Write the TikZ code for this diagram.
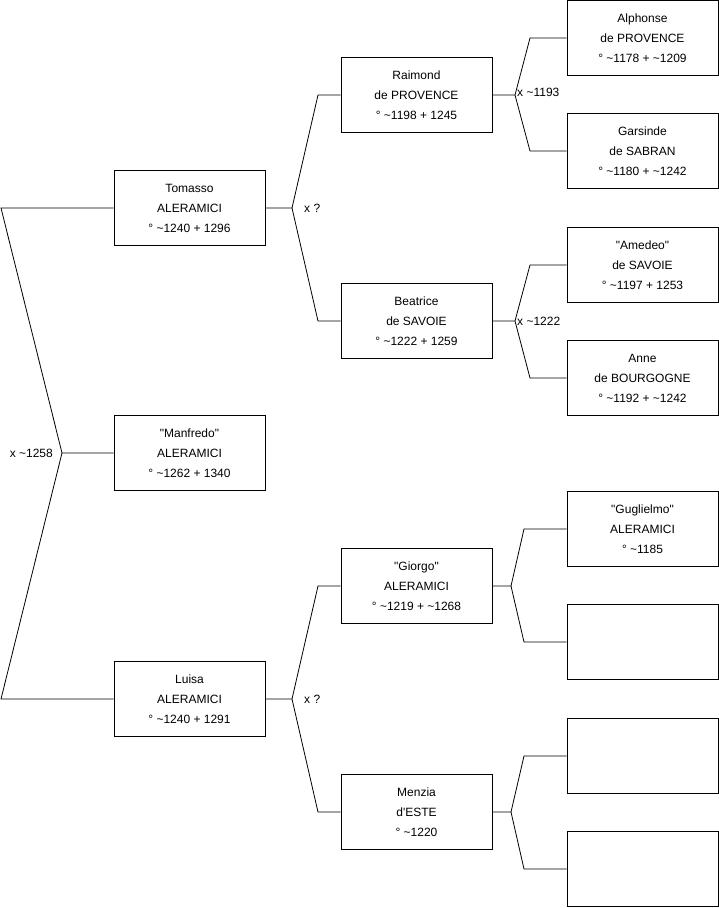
\documentclass[tikz,border=0pt]{standalone}
\usepackage{fontspec}
\setmainfont{Liberation Sans}
\usepackage{tikz}
\usetikzlibrary{calc}
\newcommand{\ap}{\textasciitilde}
\newcommand{\qq}[1]{\textquotedbl#1\textquotedbl}

\begin{document}
\begin{tikzpicture}[
  x=1pt, y=-1pt,
  person/.style={draw, line width=0.8pt, minimum width=151pt, minimum height=75pt, align=center, inner sep=0pt, font=\fontsize{12}{20}\selectfont},
  link/.style={draw, line width=0.8pt},
  union/.style={font=\fontsize{12}{14}\selectfont, inner sep=0pt}
]
\useasboundingbox (0,0) rectangle (719,908);

% generation 1
\node[person] (tomasso)  at (189.5,208) {Tomasso\\ALERAMICI\\° \ap1240 + 1296};
\node[person] (manfredo) at (189.5,453) {\qq{Manfredo}\\ALERAMICI\\° \ap1262 + 1340};
\node[person] (luisa)    at (189.5,699) {Luisa\\ALERAMICI\\° \ap1240 + 1291};

% generation 2
\node[person] (raimond)  at (416.5,95)  {Raimond\\de PROVENCE\\° \ap1198 + 1245};
\node[person] (beatrice) at (416.5,321) {Beatrice\\de SAVOIE\\° \ap1222 + 1259};
\node[person] (giorgo)   at (416.5,586) {\qq{Giorgo}\\ALERAMICI\\° \ap1219 + \ap1268};
\node[person] (menzia)   at (416.5,812) {Menzia\\d\textquotesingle ESTE\\° \ap1220};

% generation 3
\node[person] (alphonse)  at (642.5,38)  {Alphonse\\de PROVENCE\\° \ap1178 + \ap1209};
\node[person] (garsinde)  at (642.5,151) {Garsinde\\de SABRAN\\° \ap1180 + \ap1242};
\node[person] (amedeo)    at (642.5,265) {\qq{Amedeo}\\de SAVOIE\\° \ap1197 + 1253};
\node[person] (anne)      at (642.5,378) {Anne\\de BOURGOGNE\\° \ap1192 + \ap1242};
\node[person] (guglielmo) at (642.5,529) {\qq{Guglielmo}\\ALERAMICI\\° \ap1185};
\node[person] (emptyA)    at (642.5,642) {};
\node[person] (emptyB)    at (642.5,756) {};
\node[person] (emptyC)    at (642.5,869) {};

% junctions
\coordinate (jManfredo) at (62,453);
\coordinate (jTomasso)  at (292,208);
\coordinate (jLuisa)    at (292,699);
\coordinate (jRaimond)  at (515,95);
\coordinate (jBeatrice) at (515,321);
\coordinate (jGiorgo)   at (511,586);
\coordinate (jMenzia)   at (511,812);

% links
\path[link] (manfredo.west) -- (jManfredo) -- (1,208) -- (tomasso.west);
\path[link] (jManfredo) -- (1,699) -- (luisa.west);
\path[link] (tomasso.east) -- (jTomasso) -- (318,95) -- (raimond.west);
\path[link] (jTomasso) -- (318,321) -- (beatrice.west);
\path[link] (luisa.east) -- (jLuisa) -- (318,586) -- (giorgo.west);
\path[link] (jLuisa) -- (318,812) -- (menzia.west);
\path[link] (raimond.east) -- (jRaimond) -- (530,38) -- (alphonse.west);
\path[link] (jRaimond) -- (530,151) -- (garsinde.west);
\path[link] (beatrice.east) -- (jBeatrice) -- (530,265) -- (amedeo.west);
\path[link] (jBeatrice) -- (530,378) -- (anne.west);
\path[link] (giorgo.east) -- (jGiorgo) -- (524,529) -- (guglielmo.west);
\path[link] (jGiorgo) -- (524,642) -- (emptyA.west);
\path[link] (menzia.east) -- (jMenzia) -- (524,756) -- (emptyB.west);
\path[link] (jMenzia) -- (524,869) -- (emptyC.west);

% marriages
\node[union, anchor=east] at ($(jManfredo)+(-9,0)$) {x \ap1258};
\node[union, anchor=west] at ($(jTomasso)+(12,0)$) {x ?};
\node[union, anchor=west] at ($(jLuisa)+(12,0)$) {x ?};
\node[union, anchor=west] at ($(jRaimond)+(2,-3)$) {x \ap1193};
\node[union, anchor=west] at ($(jBeatrice)+(2,0)$) {x \ap1222};
\end{tikzpicture}
\end{document}
